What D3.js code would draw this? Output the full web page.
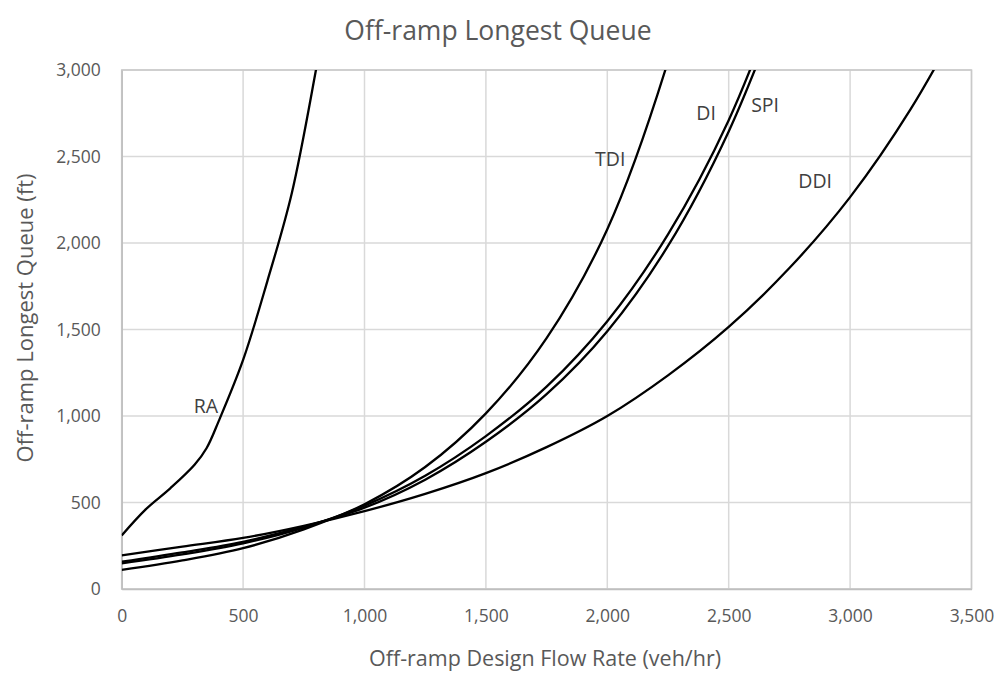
<!DOCTYPE html>
<html>
<head>
<meta charset="utf-8">
<script src="https://cdn.jsdelivr.net/npm/d3@7"></script>
<style>
  html, body { margin: 0; padding: 0; background: #fff; }
  svg { display: block; }
  text { font-family: "Open Sans", sans-serif; }
</style>
</head>
<body>
<svg id="chart" width="1002" height="675"></svg>
<script>
// ---- data ----
const flowRates = [0, 250, 500, 750, 1000, 1250, 1500, 1750, 2000, 2250, 2500, 2750, 3000, 3250, 3500];
const ddiQueue = [195, 245, 295, 365, 450, 550, 670, 820, 1000, 1235, 1515, 1855, 2265, 2775, 3400];
const tdiQueue = [110, 165, 236, 345, 490, 705, 1015, 1450, 2080, 3050, 4400];
const diQueue  = [148, 200, 264, 355, 482, 655, 884, 1170, 1548, 2050, 2710, 3600];
const spiQueue = [158, 212, 273, 360, 470, 632, 851, 1126, 1490, 1983, 2645, 3520];
const raFlowRates = [0, 100, 200, 300, 350, 400, 500, 600, 700, 800, 850];
const raQueue = [310, 462, 582, 718, 815, 972, 1324, 1780, 2285, 3000, 3400];

const xTicks = [0, 500, 1000, 1500, 2000, 2500, 3000, 3500];
const yTicks = [0, 500, 1000, 1500, 2000, 2500, 3000];

const seriesNames = ["RA", "TDI", "DI", "SPI", "DDI"];
const labelX = [347, 2012, 2407, 2650, 2856];
const labelY = [1058, 2491, 2757, 2803, 2364];

const titleText = "Off-ramp Longest Queue";
const xTitle = "Off-ramp Design Flow Rate (veh/hr)";
const yTitle = "Off-ramp Longest Queue (ft)";

// ---- layout ----
const svg = d3.select("#chart");
const L = 121.7, R = 971.5, T = 70, B = 589;
const x = d3.scaleLinear().domain([0, 3500]).range([L, R]);
const y = d3.scaleLinear().domain([0, 3000]).range([B, T]);
const fmt = d3.format(",");

svg.append("defs").append("clipPath").attr("id", "plotclip")
  .append("rect").attr("x", L).attr("y", T).attr("width", R - L).attr("height", B - T);

// gridlines
svg.append("g").selectAll("line").data(yTicks).join("line")
  .attr("x1", L).attr("x2", R).attr("y1", d => y(d)).attr("y2", d => y(d))
  .attr("stroke", "#d9d9d9").attr("stroke-width", 1.5);
svg.append("g").selectAll("line").data(xTicks).join("line")
  .attr("y1", T).attr("y2", B).attr("x1", d => x(d)).attr("x2", d => x(d))
  .attr("stroke", "#d9d9d9").attr("stroke-width", 1.5);

// plot border
svg.append("rect").attr("x", L).attr("y", T).attr("width", R - L).attr("height", B - T)
  .attr("fill", "none").attr("stroke", "#c9c9c9").attr("stroke-width", 1.5);

// axes
const xAxis = d3.axisBottom(x).tickValues(xTicks).tickFormat(fmt).tickSize(0).tickPadding(21);
const gx = svg.append("g").attr("transform", `translate(0,${B})`).call(xAxis);
gx.select(".domain").attr("stroke", "#bfbfbf").attr("stroke-width", 1.5);
gx.selectAll("text").attr("fill", "#595959").style("font-size", "17.5px").style("font-family", "'Open Sans', sans-serif");

const yAxis = d3.axisLeft(y).tickValues(yTicks).tickFormat(fmt).tickSize(0).tickPadding(21);
const gy = svg.append("g").attr("transform", `translate(${L},0)`).call(yAxis);
gy.select(".domain").attr("stroke", "#bfbfbf").attr("stroke-width", 1.5);
gy.selectAll("text").attr("fill", "#595959").style("font-size", "17.5px").style("font-family", "'Open Sans', sans-serif");

// series
const mk = (xs, ys) => ys.map((v, i) => ({ x: xs[i], y: v }));
const series = [
  mk(raFlowRates, raQueue),
  mk(flowRates, tdiQueue),
  mk(flowRates, diQueue),
  mk(flowRates, spiQueue),
  mk(flowRates, ddiQueue)
];
const line = d3.line().x(d => x(d.x)).y(d => y(d.y)).curve(d3.curveCatmullRom.alpha(0.5));
svg.append("g").attr("clip-path", "url(#plotclip)")
  .selectAll("path").data(series).join("path")
  .attr("d", line).attr("fill", "none").attr("stroke", "#000").attr("stroke-width", 2.3);

// series labels
svg.append("g").selectAll("text").data(seriesNames).join("text")
  .attr("x", (d, i) => x(labelX[i])).attr("y", (d, i) => y(labelY[i]))
  .attr("text-anchor", "middle").attr("dominant-baseline", "central")
  .attr("fill", "#404040").style("font-size", "19.5px").text(d => d);

// titles
svg.append("text").attr("x", 498).attr("y", 30).attr("text-anchor", "middle")
  .attr("dominant-baseline", "central").attr("fill", "#595959").style("font-size", "26.5px").text(titleText);
svg.append("text").attr("x", 545).attr("y", 657).attr("text-anchor", "middle")
  .attr("dominant-baseline", "central").attr("fill", "#595959").style("font-size", "21.5px").text(xTitle);
svg.append("text").attr("transform", "translate(24,318) rotate(-90)").attr("text-anchor", "middle")
  .attr("dominant-baseline", "central").attr("fill", "#595959").style("font-size", "22px").text(yTitle);
</script>
</body>
</html>
